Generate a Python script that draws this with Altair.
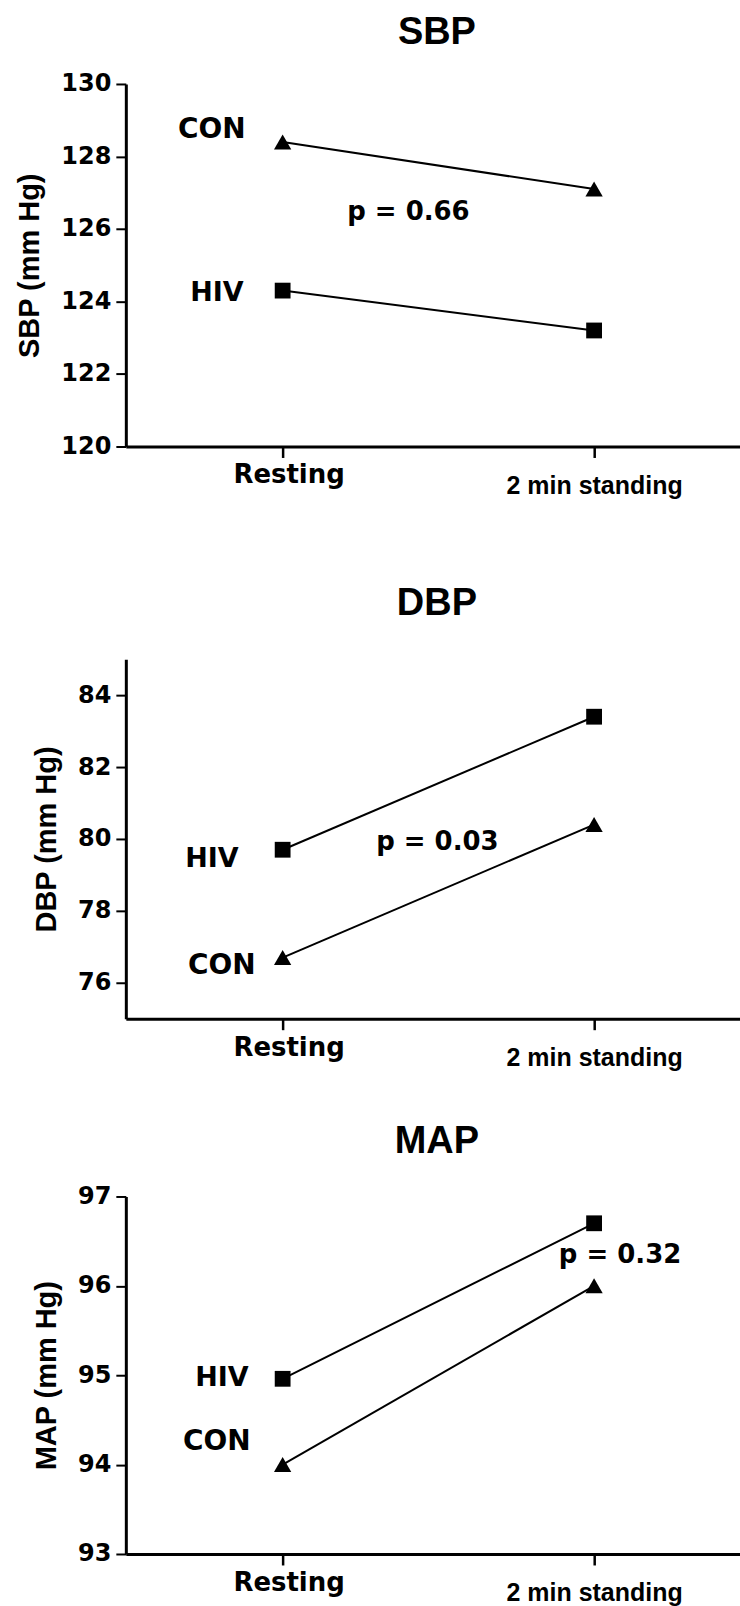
import altair as alt
import pandas as pd

# ---- data ----
conditions = ["Resting", "2 min standing"]
groups = ["CON", "HIV"]

panel_names = ["SBP", "DBP", "MAP"]
y_titles = ["SBP (mm Hg)", "DBP (mm Hg)", "MAP (mm Hg)"]
y_domains = [[120, 130], [75, 85], [93, 97]]
y_tick_values = [[120, 122, 124, 126, 128, 130], [76, 78, 80, 82, 84], [93, 94, 95, 96, 97]]

con_values = [[128.4, 127.1], [76.7, 80.4], [94.0, 96.0]]
hiv_values = [[124.3, 123.2], [79.7, 83.4], [94.96, 96.7]]

p_texts = ["p = 0.66", "p = 0.03", "p = 0.32"]
# annotation anchors (data units)
con_label_y = [128.72, 76.47, 94.25]
hiv_label_y = [124.24, 79.44, 94.97]
p_label_y = [126.46, 79.92, 96.34]
p_label_x = ["Resting", "Resting", "2 min standing"]

# ---- styling ----
con_dx = [-37, -27, -32]
hiv_dx = [-39, -44, -34]
p_dx = [126, 155, 26]
title_offsets = [20, 36, 24]
plot_heights = [363, 360, 358]
extra_bottom = [35, 0, 0]   # extra room below panel so panel gaps differ
W = 615

is_rest = "datum.value === 'Resting'"


def panel(i):
    df = pd.DataFrame({
        "condition": conditions * 2,
        "group": [groups[0]] * 2 + [groups[1]] * 2,
        "value": con_values[i] + hiv_values[i],
    })
    h = plot_heights[i]
    xscale = alt.Scale(type="point", domain=conditions, padding=0.486, align=0.518)
    yscale = alt.Scale(domain=y_domains[i], nice=False, zero=False, range=[h, 0])
    x_axis = alt.Axis(
        title=None, grid=False, labelAngle=0, offset=-extra_bottom[i],
        domainColor="black", domainWidth=3,
        tickColor="black", tickWidth=2.5, tickSize=11,
        labelColor="black", labelFontWeight="bold", labelBaseline="top",
        labelFont={"condition": {"test": is_rest, "value": "DejaVu Sans"}, "value": "Liberation Sans"},
        labelFontSize={"condition": {"test": is_rest, "value": 26}, "value": 25},
        labelPadding={"condition": {"test": is_rest, "value": 4.5}, "value": 16},
        labelOffset={"condition": {"test": is_rest, "value": 6}, "value": 0},
    )
    y_axis = alt.Axis(
        title=y_titles[i], values=y_tick_values[i], format="d", grid=False,
        domainColor="black", domainWidth=3,
        tickColor="black", tickWidth=2, tickSize=10,
        labelColor="black", labelFont="DejaVu Sans", labelFontSize=24,
        labelFontWeight="bold", labelPadding=5,
        titleColor="black", titleFont="Liberation Sans", titleFontSize=29,
        titleFontWeight="bold", titlePadding=16,
    )
    x = alt.X("condition:N", sort=conditions, scale=xscale, axis=x_axis)
    y = alt.Y("value:Q", scale=yscale, axis=y_axis)

    base = alt.Chart(df)
    lines = base.mark_line(color="black", strokeWidth=2).encode(x=x, y=y, detail="group:N")
    pts = base.mark_point(filled=True, color="black", opacity=1).encode(
        x=x, y=y,
        shape=alt.Shape("group:N", scale=alt.Scale(domain=groups, range=["triangle-up", "square"]), legend=None),
        size=alt.Size("group:N", scale=alt.Scale(domain=groups, range=[300, 250]), legend=None),
    )

    def label(text, cond, yv, dx, align, fs):
        d = pd.DataFrame({"condition": [cond], "value": [yv], "t": [text]})
        return alt.Chart(d).mark_text(
            font="DejaVu Sans", fontSize=fs, fontWeight="bold", color="black",
            align=align, baseline="middle", dx=dx,
        ).encode(x=alt.X("condition:N", sort=conditions, scale=xscale),
                 y=alt.Y("value:Q", scale=yscale), text="t:N")

    t_con = label("CON", "Resting", con_label_y[i], con_dx[i], "right", 28)
    t_hiv = label("HIV", "Resting", hiv_label_y[i], hiv_dx[i], "right", 27)
    t_p = label(p_texts[i], p_label_x[i], p_label_y[i], p_dx[i], "center", 26)

    return alt.layer(lines, pts, t_con, t_hiv, t_p).properties(
        width=W, height=h + extra_bottom[i],
        title=alt.TitleParams(text=panel_names[i], font="Liberation Sans", fontSize=38,
                              fontWeight="bold", color="black", anchor="middle",
                              frame="group", offset=title_offsets[i], dx=4),
    )


chart = alt.vconcat(panel(0), panel(1), panel(2), spacing=178, bounds="flush").properties(
    padding={"left": 15, "top": 13, "right": 0, "bottom": 0},
    background="white",
).configure_view(stroke=None)

chart.save("out.html", embed_options={"renderer": "svg", "actions": False})
